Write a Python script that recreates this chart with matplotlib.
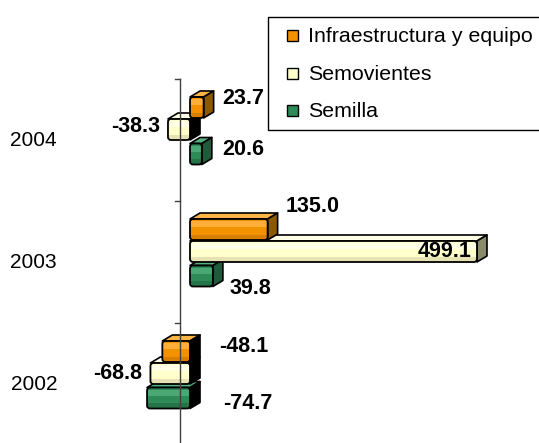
import matplotlib
matplotlib.use('Agg')
import matplotlib.pyplot as plt
from matplotlib.patches import Polygon, FancyBboxPatch, Rectangle

# ---------------- data ----------------
categories = ['2002', '2003', '2004']
series = ['Infraestructura y equipo', 'Semovientes', 'Semilla']
infraestructura = [-48.1, 135.0, 23.7]
semovientes = [-68.8, 499.1, -38.3]
semilla = [-74.7, 39.8, 20.6]
values = [infraestructura, semovientes, semilla]

# ---------------- style ----------------
plt.rcParams['font.family'] = ['Liberation Sans', 'DejaVu Sans']
front_col = ['#F39200', '#FFFFCC', '#2E8B57']
light_col = ['#FFAE3A', '#FFFFE6', '#4BA875']
dark_col = ['#D97F00', '#E6E2B4', '#257448']
top_col = ['#FFB545', '#FFFFE8', '#55B182']
side_col = ['#8B5A00', '#8A8A6C', '#1F5A3A']

W, H, DPI = 539, 443, 100
fig = plt.figure(figsize=(W / DPI, H / DPI), dpi=DPI)
ax = fig.add_axes([0, 0, 1, 1])
PX_X = 0.575      # pixels per value unit
X0 = 190          # pixel of zero (front)
PX_Y = 122        # pixels per category
YC0 = 383.5       # pixel (from top) of first category centre
ax.set_xlim(-X0 / PX_X, (W - X0) / PX_X)
ax.set_ylim((YC0 - H) / PX_Y, YC0 / PX_Y)
ax.axis('off')


def dxu(px):
    return px / PX_X


def dyu(px):
    return px / PX_Y


bar_off_px = [32, 10, -14.5]     # upward offset of each series inside a group
bar_h_px = 21
depth_x, depth_y = dxu(10), dyu(6)
hh = dyu(bar_h_px) / 2

# label offsets (px, relative to value end / bar centre)
label_off = [
    [(57, 6.5, 'left'), (18, 24.5, 'left'), (19, 10.5, 'left')],
    [(-8, 1.5, 'right'), (-5, 1.5, 'right'), (-8, 4.5, 'right')],
    [(76, -4, 'left'), (17, -11, 'left'), (20, 6, 'left')],
]

z = 2
for ci, cat in enumerate(categories):
    for si in [2, 1, 0]:
        v = values[si][ci]
        yc = ci + dyu(bar_off_px[si])
        x0, x1 = min(0, v), max(0, v)
        yb, yt = yc - hh, yc + hh
        # top face
        ax.add_patch(Polygon([(x0, yt), (x1, yt), (x1 + depth_x, yt + depth_y),
                              (x0 + depth_x, yt + depth_y)], closed=True,
                             facecolor=top_col[si], edgecolor='black', lw=1.2,
                             joinstyle='round', zorder=z))
        # right side face
        sc = side_col[si] if v > 0 else 'black'
        ax.add_patch(Polygon([(x1, yb), (x1, yt), (x1 + depth_x, yt + depth_y),
                              (x1 + depth_x, yb + depth_y)], closed=True,
                             facecolor=sc, edgecolor='black', lw=1.2,
                             joinstyle='round', zorder=z))
        # front face
        front = FancyBboxPatch((x0, yb), x1 - x0, yt - yb,
                               boxstyle='round,pad=0,rounding_size=%f' % dxu(3),
                               mutation_aspect=PX_X / PX_Y,
                               facecolor=front_col[si], edgecolor='none', zorder=z + 0.1)
        ax.add_patch(front)
        band1 = Rectangle((x0, yt - (yt - yb) * 0.4), x1 - x0, (yt - yb) * 0.3,
                          facecolor=light_col[si], edgecolor='none', zorder=z + 0.2)
        band2 = Rectangle((x0, yb), x1 - x0, (yt - yb) * 0.25,
                          facecolor=dark_col[si], edgecolor='none', zorder=z + 0.2)
        for b in (band1, band2):
            ax.add_patch(b)
            b.set_clip_path(front)
        ax.add_patch(FancyBboxPatch((x0, yb), x1 - x0, yt - yb,
                                    boxstyle='round,pad=0,rounding_size=%f' % dxu(3),
                                    mutation_aspect=PX_X / PX_Y,
                                    facecolor='none', edgecolor='black', lw=1.3,
                                    zorder=z + 0.3))
        z += 1
        dx, dy, ha = label_off[si][ci]
        ax.text(v + dxu(dx), yc + dyu(dy) - dyu(1.5), f'{v:.1f}', ha=ha, va='center',
                fontsize=15.5, fontweight='bold', color='black', zorder=50)

# value axis line (drawn over bars) and category ticks
axis_x = dxu(180 - X0)
ax.plot([axis_x, axis_x], [-0.6, 2.5], color='#404040', lw=1, zorder=40)
for b in [0.5, 1.5, 2.5]:
    ax.plot([axis_x - dxu(5), axis_x], [b, b], color='#404040', lw=1, zorder=40)

# category labels
for ci, cat in enumerate(categories):
    ax.text(dxu(57 - X0), ci - dyu(1), cat, ha='right', va='center', fontsize=15)

# ---------------- legend ----------------
def fx(px):
    return px / W


def fy(py):
    return 1 - py / H


fig.patches.append(Rectangle((fx(268), fy(130)), fx(300), fy(17) - fy(130),
                             transform=fig.transFigure, facecolor='white',
                             edgecolor='black', lw=1, zorder=60))
entry_y = [35.5, 73, 110.5]
for si, name in enumerate(series):
    fig.patches.append(Rectangle((fx(287), fy(entry_y[si] + 5.5)), fx(11), fy(0) - fy(11),
                                 transform=fig.transFigure, facecolor=front_col[si],
                                 edgecolor='black', lw=1, zorder=61))
    fig.text(fx(308), fy(entry_y[si]) - 1.5 / H, name, ha='left', va='center',
             fontsize=15.4, zorder=62)

fig.savefig('out.png', dpi=DPI)
